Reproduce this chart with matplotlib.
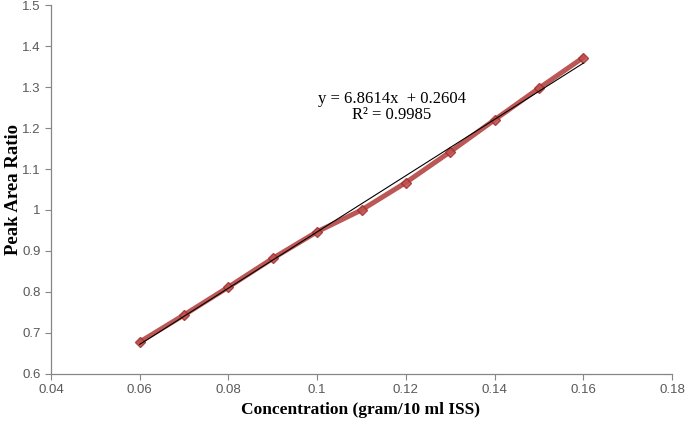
import matplotlib
matplotlib.use('Agg')
import matplotlib.pyplot as plt
import numpy as np

# Calibration data
concentration = [0.06, 0.07, 0.08, 0.09, 0.10, 0.11, 0.12, 0.13, 0.14, 0.15, 0.16]
peak_ratio = [0.678, 0.744, 0.812, 0.882, 0.947, 1.000, 1.067, 1.142, 1.220, 1.297, 1.372]

slope = 6.8614
intercept = 0.2604
r_squared = 0.9985

x_ticks = [0.04, 0.06, 0.08, 0.1, 0.12, 0.14, 0.16, 0.18]
x_tick_labels = ['0.04', '0.06', '0.08', '0.1', '0.12', '0.14', '0.16', '0.18']
y_ticks = [0.6, 0.7, 0.8, 0.9, 1.0, 1.1, 1.2, 1.3, 1.4, 1.5]
y_tick_labels = ['0.6', '0.7', '0.8', '0.9', '1', '1.1', '1.2', '1.3', '1.4', '1.5']

fig = plt.figure(figsize=(6.85, 4.23), dpi=100)
ax = fig.add_axes([0.0745, 0.116, 0.9065, 0.872])

# data series: thick red line with diamond markers
ax.plot(concentration, peak_ratio, color='#b03a37', linewidth=3.6, alpha=0.85,
        marker='D', markersize=5.5, markerfacecolor='#c0504d',
        markeredgecolor='#a03030', solid_capstyle='round', zorder=2)

# linear trendline
xs = np.array([concentration[0], concentration[-1]])
ax.plot(xs, slope * xs + intercept, color='black', linewidth=0.8, zorder=3)

ax.text(0.1169, 1.251, f'y = {slope}x  + {intercept}\nR² = {r_squared}',
        ha='center', va='center', fontsize=12, family='Liberation Serif',
        linespacing=0.95)

ax.set_xlim(0.04, 0.18)
ax.set_ylim(0.6, 1.5)
ax.set_xticks(x_ticks)
ax.set_xticklabels(x_tick_labels)
ax.set_yticks(y_ticks)
ax.set_yticklabels(y_tick_labels)

for side in ['top', 'right']:
    ax.spines[side].set_visible(False)
for side in ['left', 'bottom']:
    ax.spines[side].set_color('#868686')
    ax.spines[side].set_linewidth(0.9)

ax.tick_params(axis='both', direction='out', length=4, width=0.8,
               color='#868686', labelsize=9.5, labelcolor='#595959')
for lab in ax.get_xticklabels() + ax.get_yticklabels():
    lab.set_family('Liberation Sans')

ax.set_xlabel('Concentration (gram/10 ml ISS)', fontsize=12.5, fontweight='bold',
              family='Liberation Serif')
ax.set_ylabel('Peak Area Ratio', fontsize=13.5, fontweight='bold',
              family='Liberation Serif')
ax.xaxis.set_label_coords(0.499, -0.076)
ax.yaxis.set_label_coords(-0.046, 0.5)

fig.savefig('out.png', dpi=100)
plt.close(fig)
